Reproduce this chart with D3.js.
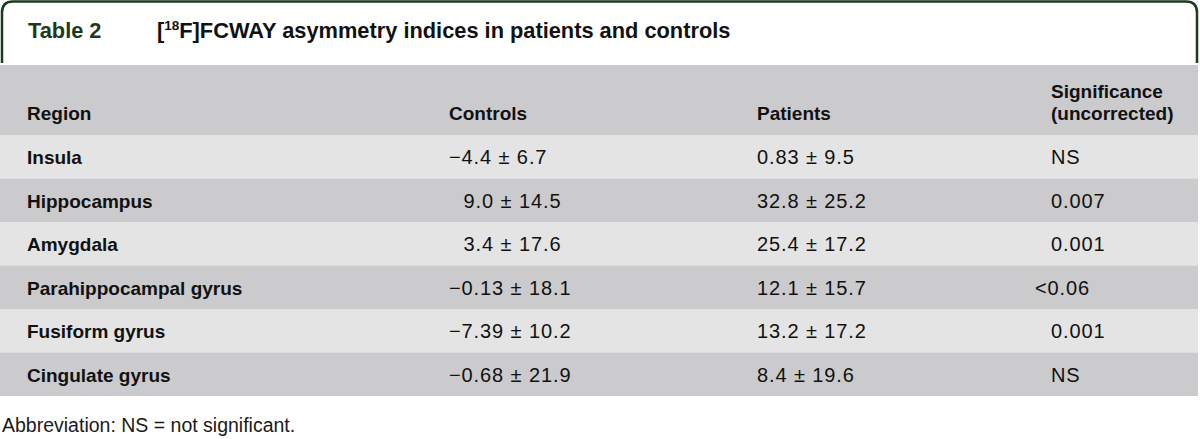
<!DOCTYPE html>
<html>
<head>
<meta charset="utf-8">
<script src="https://cdn.jsdelivr.net/npm/d3@7/dist/d3.min.js"></script>
<style>
  html, body { margin: 0; padding: 0; background: #ffffff; }
  svg { display: block; }
  text { font-family: "Liberation Sans", Arial, Helvetica, sans-serif; fill: #111; }
</style>
</head>
<body>
<svg id="chart" width="1200" height="439"></svg>
<script>
// ---- data ----
const tableLabel = "Table 2";
const titleParts = ["[", "18", "F]FCWAY asymmetry indices in patients and controls"];
const columns = ["Region", "Controls", "Patients", "Significance", "(uncorrected)"];
const regions = ["Insula", "Hippocampus", "Amygdala", "Parahippocampal gyrus", "Fusiform gyrus", "Cingulate gyrus"];
const controlsMean = ["\u22124.4", "9.0", "3.4", "\u22120.13", "\u22127.39", "\u22120.68"];
const controlsSD = ["6.7", "14.5", "17.6", "18.1", "10.2", "21.9"];
const patientsMean = ["0.83", "32.8", "25.4", "12.1", "13.2", "8.4"];
const patientsSD = ["9.5", "25.2", "17.2", "15.7", "17.2", "19.6"];
const significance = ["NS", "0.007", "0.001", "<0.06", "0.001", "NS"];
const footnote = "Abbreviation: NS = not significant.";

// ---- layout ----
const svg = d3.select("#chart");
const green = "#1c3a21";
const lightRow = "#e4e4e4";
const darkRow = "#cbcbcd";

const y = d3.scaleBand().domain(regions).range([135, 396]).padding(0);
const colX = d3.scaleOrdinal().domain(["region", "controls", "patients", "sig"]).range([27, 449, 757, 1051]);

// title tab with rounded top corners
const tabL = 2, tabR = 1197, tabT = 1.5, tabB = 63, rad = 11;
svg.append("path")
  .attr("d", `M${tabL},${tabB} L${tabL},${tabT + rad} Q${tabL},${tabT} ${tabL + rad},${tabT} L${tabR - rad},${tabT} Q${tabR},${tabT} ${tabR},${tabT + rad} L${tabR},${tabB}`)
  .attr("fill", "none").attr("stroke", green).attr("stroke-width", 2.5);

svg.append("text").attr("x", 28).attr("y", 37.5)
  .style("font-weight", "bold").style("font-size", "21.8px").style("fill", green)
  .text(tableLabel);

const title = svg.append("text").attr("x", 157).attr("y", 37.5)
  .style("font-weight", "bold").style("font-size", "21.8px").style("fill", "#111");
title.append("tspan").text(titleParts[0]);
title.append("tspan").attr("dy", -7.5).style("font-size", "13.5px").text(titleParts[1]);
title.append("tspan").attr("dy", 7.5).text(titleParts[2]);

// header band
svg.append("rect").attr("x", 0).attr("y", 65).attr("width", 1198).attr("height", 70).attr("fill", darkRow);

const hdr = svg.append("g").style("font-weight", "bold").style("font-size", "19px");
hdr.append("text").attr("x", colX("region")).attr("y", 120).text(columns[0]);
hdr.append("text").attr("x", colX("controls")).attr("y", 120).text(columns[1]);
hdr.append("text").attr("x", colX("patients")).attr("y", 120).text(columns[2]);
hdr.append("text").attr("x", colX("sig")).attr("y", 98).text(columns[3]);
hdr.append("text").attr("x", colX("sig")).attr("y", 120).text(columns[4]);

// body rows
const rows = svg.append("g").selectAll("g").data(regions).join("g")
  .attr("transform", d => `translate(0,${y(d)})`);

rows.append("rect").attr("x", 0).attr("y", 0).attr("width", 1198).attr("height", y.bandwidth())
  .attr("fill", (d, i) => i % 2 === 0 ? lightRow : darkRow);

const base = y.bandwidth() / 2 + 7.5;

rows.append("text").attr("x", colX("region")).attr("y", base)
  .style("font-weight", "bold").style("font-size", "19px").text(d => d);

const valStyle = sel => sel.style("font-size", "20px").style("letter-spacing", "0.9px");

// measure minus width for alignment of non-negative control values
const probe = valStyle(svg.append("text").attr("x", -100).attr("y", -100)).text("\u2212");
const minusW = probe.node().getComputedTextLength();
probe.remove();

rows.append("text")
  .attr("x", (d, i) => colX("controls") + (controlsMean[i].startsWith("\u2212") ? 0 : minusW + 2))
  .attr("y", base)
  .call(valStyle)
  .text((d, i) => `${controlsMean[i]} \u00b1 ${controlsSD[i]}`);

rows.append("text").attr("x", colX("patients")).attr("y", base)
  .call(valStyle)
  .text((d, i) => `${patientsMean[i]} \u00b1 ${patientsSD[i]}`);

rows.append("text")
  .attr("x", (d, i) => significance[i].startsWith("<") ? colX("sig") - 16 : colX("sig"))
  .attr("y", base)
  .call(valStyle)
  .text((d, i) => significance[i]);

// footnote
svg.append("text").attr("x", 2).attr("y", 432)
  .style("font-size", "19.5px").style("fill", "#1a1a1a").text(footnote);
</script>
</body>
</html>
